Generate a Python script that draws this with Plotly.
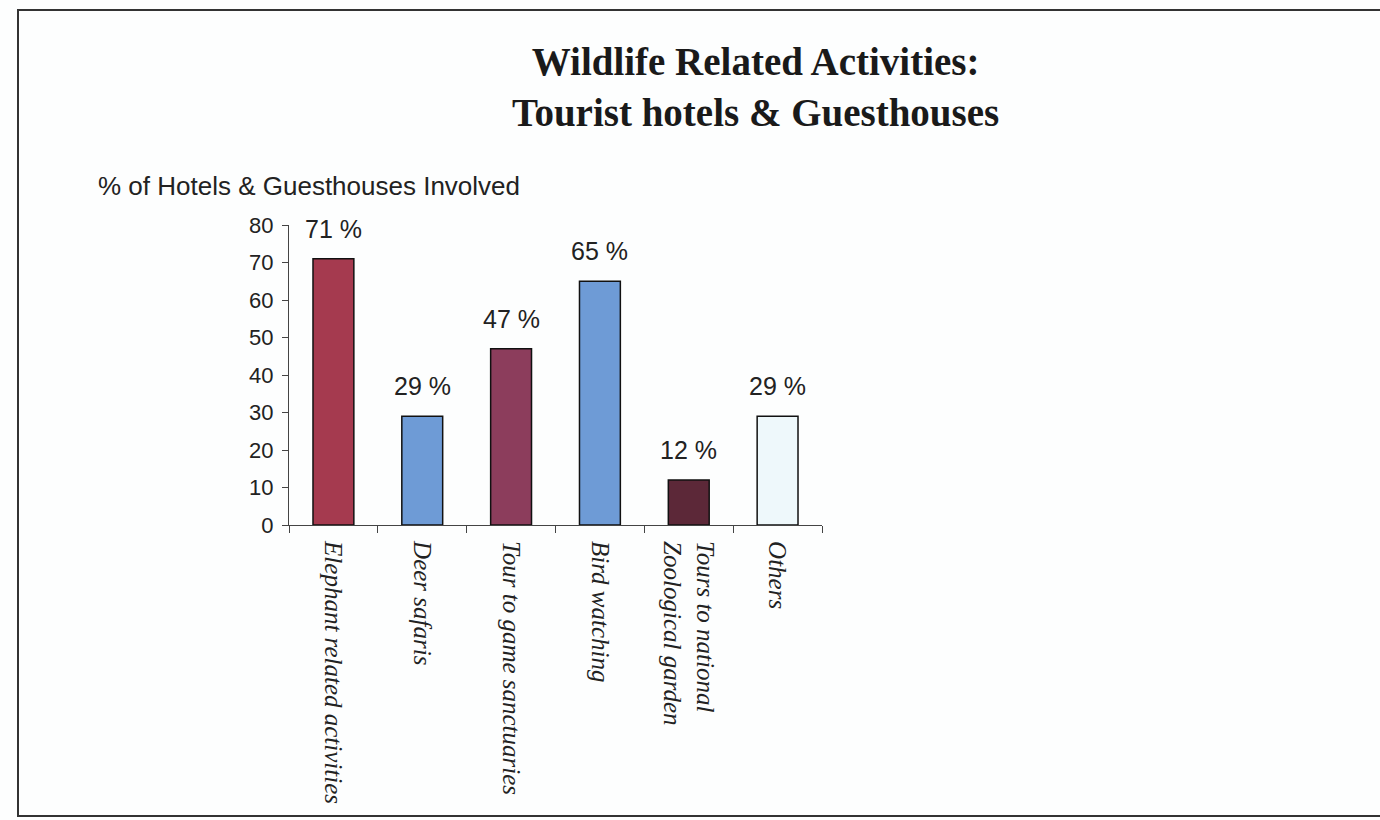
import plotly.graph_objects as go

categories = ["Elephant related activities", "Deer safaris", "Tour to game sanctuaries",
              "Bird watching", "Tours to national<br>Zoological garden", "Others"]
values = [71, 29, 47, 65, 12, 29]
bar_colors = ["#A53A4F", "#6E9BD6", "#8C3D5C", "#6E9BD6", "#5C2838", "#EEF8FB"]
y_ticks = [0, 10, 20, 30, 40, 50, 60, 70, 80]

W, H = 1380, 820
L, R, T, B = 289, 1380 - 822, 225, 820 - 525
pw, ph = W - L - R, H - T - B

def px_x(x):
    return (x - L) / pw

def px_y(y):
    return (H - B - y) / ph

fig = go.Figure()
fig.add_trace(go.Bar(
    x=categories, y=values,
    marker=dict(color=bar_colors, line=dict(color="#111111", width=1.5)),
    width=0.46, hoverinfo="skip",
))

for c, v in zip(categories, values):
    fig.add_annotation(x=c, y=v, text=f"{v} %", showarrow=False, yanchor="bottom",
                       yshift=14, font=dict(family="Liberation Sans", size=25, color="#222222"))

fig.add_annotation(xref="paper", yref="paper", x=px_x(96), y=px_y(186), xanchor="left",
                   yanchor="middle", showarrow=False,
                   text="% of Hotels & Guesthouses Involved",
                   font=dict(family="Liberation Sans", size=26, color="#222222"))

fig.add_annotation(xref="paper", yref="paper", x=px_x(755), y=px_y(87), xanchor="center",
                   yanchor="middle", showarrow=False,
                   text="<b>Wildlife Related Activities:</b><br><b>Tourist hotels &amp; Guesthouses</b>",
                   font=dict(family="Liberation Serif", size=39, color="#1a1a1a"))

# scanned page border
fig.add_shape(type="rect", xref="paper", yref="paper",
              x0=px_x(18), x1=px_x(1395), y0=px_y(10), y1=px_y(816),
              line=dict(color="#333333", width=2), fillcolor="rgba(0,0,0,0)", layer="below")

fig.update_layout(
    width=W, height=H,
    margin=dict(l=L, r=R, t=T, b=B),
    paper_bgcolor="#FDFEFE", plot_bgcolor="rgba(0,0,0,0)",
    showlegend=False, bargap=0.54,
    xaxis=dict(type="category", showline=True, linecolor="#444444", linewidth=1.2,
               ticks="outside", tickson="boundaries", ticklen=7, tickcolor="#444444",
               tickangle=90, showgrid=False, zeroline=False, ticklabelstandoff=10,
               tickfont=dict(family="Liberation Serif", size=25, style="italic", color="#222222")),
    yaxis=dict(range=[0, 80], tickvals=y_ticks, showline=True, linecolor="#444444", linewidth=1.2,
               ticks="outside", ticklen=6, tickcolor="#444444", showgrid=False, zeroline=False,
               ticklabelstandoff=4,
               tickfont=dict(family="Liberation Sans", size=22, color="#222222")),
)

fig.write_html("out.html")
